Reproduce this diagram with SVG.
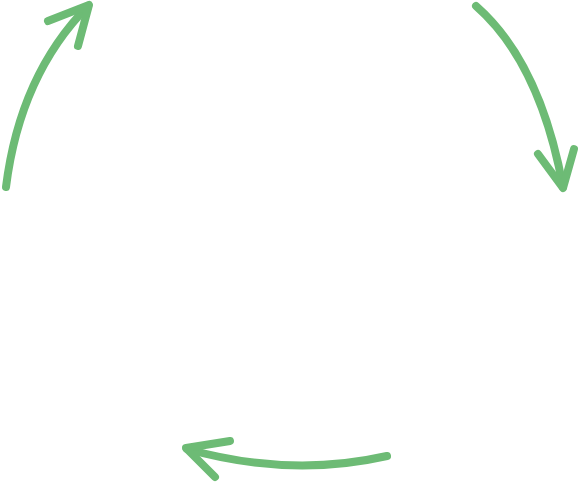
<svg xmlns="http://www.w3.org/2000/svg" width="580" height="484" viewBox="0 0 580 484">
<style>
.a{fill:none;stroke:#6dbb75;stroke-width:8;stroke-linecap:round;stroke-linejoin:round}
</style>
<rect width="580" height="484" fill="#ffffff"/>
<g id="connectors">
<g id="arrow-top-left">
<path class="a" d="M6,187 Q20,75 88,6"/>
<path class="a" d="M48,21 L89,5 L78,46"/>
</g>
<g id="arrow-top-right">
<path class="a" d="M476,6 Q540,62 563,187"/>
<path class="a" d="M538,154 L563,188 L574,149"/>
</g>
<g id="arrow-bottom">
<path class="a" d="M387,456 Q290,478 187,449"/>
<path class="a" d="M230,441 L186,448 L215,477"/>
</g>
</g>
</svg>
